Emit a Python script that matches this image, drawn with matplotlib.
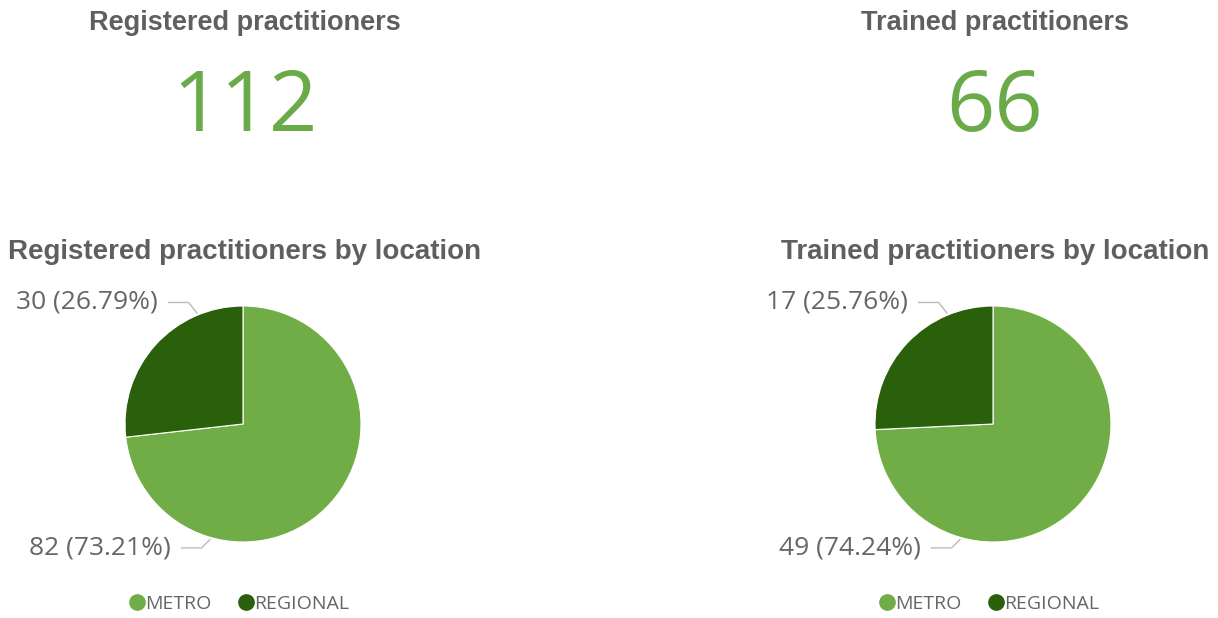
import matplotlib
matplotlib.use("Agg")
import matplotlib.pyplot as plt
import numpy as np

# ---- data ----
kpi_titles = ["Registered practitioners", "Trained practitioners"]
kpi_values = [112, 66]
pie_titles = ["Registered practitioners by location", "Trained practitioners by location"]
categories = ["METRO", "REGIONAL"]
registered_counts = [82, 30]
trained_counts = [49, 17]
registered_pct = ["73.21%", "26.79%"]
trained_pct = ["74.24%", "25.76%"]

# ---- style ----
W, H = 1218, 618
colors = ["#70AD47", "#2A5F0B"]
green_txt = "#6AAA48"
title_col = "#5F5F5F"
label_col = "#666666"
plt.rcParams['font.family'] = ['Open Sans', 'DejaVu Sans']
title_font = ['Liberation Sans', 'DejaVu Sans']

fig = plt.figure(figsize=(W / 100, H / 100), dpi=100)
fig.patch.set_facecolor("white")

def fx(px):
    return px / W

def fy(py):
    return 1 - py / H

centers_x = [243, 993]
cy = 424
R = 118

groups = [(registered_counts, registered_pct), (trained_counts, trained_pct)]

for i in range(2):
    cx = centers_x[i]
    fig.text(fx(cx + 2), fy(23), kpi_titles[i], ha="center", va="center",
             fontsize=19.5, fontweight="bold", color=title_col, family=title_font)
    fig.text(fx(cx + 2), fy(109), str(kpi_values[i]), ha="center", va="center",
             fontsize=61, color=green_txt)
    fig.text(fx(cx + 2), fy(252), pie_titles[i], ha="center", va="center",
             fontsize=20, fontweight="bold", color=title_col, family=title_font)

    counts, pcts = groups[i]
    ax = fig.add_axes([fx(cx - R), fy(cy + R), 2 * R / W, 2 * R / H])
    wedges, _ = ax.pie(counts, colors=colors, startangle=90, counterclock=False,
                       wedgeprops=dict(linewidth=0.8, edgecolor="white"))
    ax.set_xlim(-1, 1)
    ax.set_ylim(-1, 1)
    ax.set_aspect("equal")
    ax.axis("off")

    # leader lines + labels (metro bottom, regional top)
    leader_angles = [np.deg2rad(-107), np.deg2rad(114)]
    label_y = [-1.05, 1.03]
    end_y = [-0.98, 0.94]
    for k in range(2):
        a = leader_angles[k]
        ex = 0.96 * np.cos(a)
        ey = end_y[k]
        ly = label_y[k]
        x1 = ex - 0.07
        x0 = x1 - 0.17
        ax.plot([x0, x1, ex], [ly, ly, ey], color="#BBBBBB", lw=1, clip_on=False)
        ax.text(x0 - 0.09, ly, f"{counts[k]} ({pcts[k]})", ha="right", va="center",
                fontsize=19, color=label_col, clip_on=False)

    # legend
    handles = [plt.Line2D([], [], marker="o", ls="", markersize=11, color=c) for c in colors]
    fig.legend(handles, categories, loc="center", bbox_to_anchor=(fx(cx - 4), fy(604)),
               ncol=2, frameon=False, handletextpad=0.0, columnspacing=1.4,
               prop=dict(size=14), labelcolor=label_col, handlelength=0.8)

fig.savefig("out.png", dpi=100, facecolor="white")
